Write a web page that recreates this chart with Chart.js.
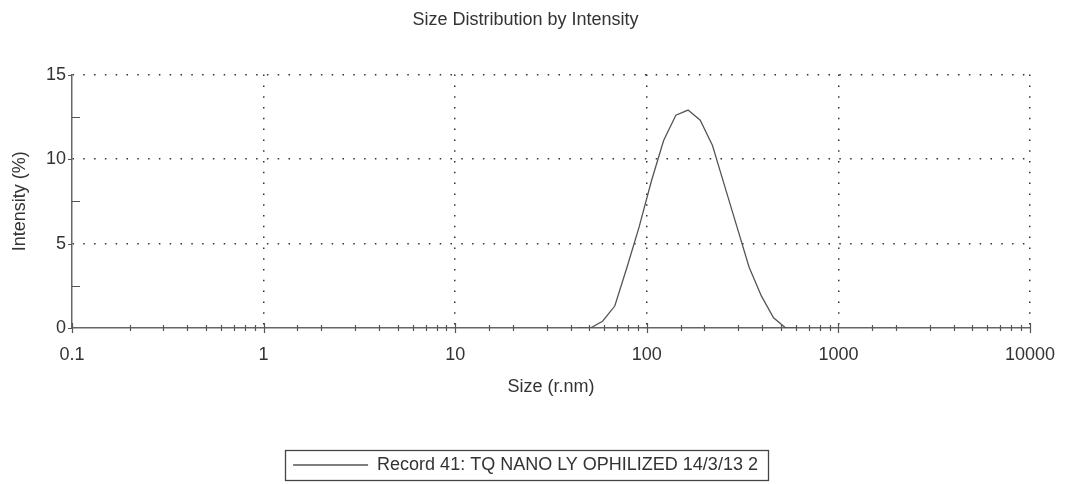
<!DOCTYPE html>
<html>
<head>
<meta charset="utf-8">
<script src="https://cdn.jsdelivr.net/npm/chart.js@4/dist/chart.umd.min.js"></script>
<style>
  html, body { margin: 0; padding: 0; background: #fff; }
</style>
</head>
<body>
<canvas id="myChart" width="1065" height="484"></canvas>
<script>
// size bins (r.nm) and intensity (%)
var sizes = [43.82, 50.75, 58.77, 68.06, 78.82, 91.28, 105.7, 122.4, 141.8, 164.2,
             190.1, 220.2, 255.0, 295.3, 342.0, 396.1, 458.7, 531.2, 615.1];
var intensity = [0, 0, 0.4, 1.3, 3.6, 6.0, 8.7, 11.1, 12.6, 12.9,
                 12.3, 10.8, 8.4, 6.0, 3.6, 1.9, 0.6, 0, 0];
var xTickLabels = [0.1, 1, 10, 100, 1000, 10000];
var yTickLabels = [0, 5, 10, 15];
var recordName = "Record 41: TQ NANO LY OPHILIZED 14/3/13 2";

var font = "'Liberation Sans', Arial, sans-serif";
var textColor = "#333";

function isDecade(v) {
  return xTickLabels.some(function (t) { return Math.abs(t - v) / t < 1e-6; });
}

// little tick marks crossing the axes, like the instrument software draws them
var axisMarks = {
  id: "axisMarks",
  afterDraw(chart) {
    let ctx = chart.ctx;
    let x = chart.scales.x, y = chart.scales.y;
    ctx.save();
    ctx.strokeStyle = "#555";
    ctx.lineWidth = 1.2;
    ctx.beginPath();
    x.ticks.forEach((t) => {
      let px = Math.round(x.getPixelForValue(t.value)) + 0.5;
      let h = isDecade(t.value) ? 5 : 3;
      ctx.moveTo(px, y.bottom - h);
      ctx.lineTo(px, y.bottom + h);
    });
    y.ticks.forEach((t) => {
      let py = Math.round(y.getPixelForValue(t.value)) + 0.5;
      if (yTickLabels.includes(t.value)) {
        ctx.moveTo(x.left - 4, py);
        ctx.lineTo(x.left, py);
      } else {
        ctx.moveTo(x.left, py);
        ctx.lineTo(x.left + 8, py);
      }
    });
    ctx.stroke();
    // frame around the legend entry
    let hb = chart.legend.legendHitBoxes[0];
    if (hb) {
      ctx.strokeStyle = "#444";
      ctx.lineWidth = 1.3;
      ctx.strokeRect(Math.round(hb.left - 8) + 0.5, Math.round(hb.top + hb.height / 2 - 15) + 0.5,
                     Math.round(hb.width + 18), 30);
    }
    ctx.restore();
  }
};

var ctx = document.getElementById("myChart").getContext("2d");
var myChart = new Chart(ctx, {
  type: "line",
  data: {
    labels: sizes,
    datasets: [
      {
        label: recordName,
        data: sizes.map((s, i) => ({ x: s, y: intensity[i] })),
        borderColor: "#555",
        backgroundColor: "#555",
        borderWidth: 1.3,
        pointRadius: 0,
        tension: 0,
        fill: false,
      },
    ],
  },
  options: {
    responsive: false,
    animation: false,
    devicePixelRatio: 1,
    layout: { padding: { left: 0, right: 14, top: 0, bottom: 0 } },
    plugins: {
      title: {
        display: true,
        text: "Size Distribution by Intensity",
        color: textColor,
        font: { family: font, size: 18, weight: "normal" },
        padding: { top: 9, bottom: 44 },
      },
      legend: {
        position: "bottom",
        labels: {
          usePointStyle: true,
          pointStyle: "line",
          pointStyleWidth: 75,
          color: textColor,
          padding: 10,
          font: { family: font, size: 18 },
        },
      },
      tooltip: { enabled: false },
    },
    scales: {
      x: {
        type: "logarithmic",
        min: 0.1,
        max: 10000,
        title: {
          display: true,
          text: "Size (r.nm)",
          color: textColor,
          font: { family: font, size: 18 },
          padding: { top: 11, bottom: 48 },
        },
        ticks: {
          autoSkip: false,
          maxRotation: 0,
          padding: 16,
          color: textColor,
          font: { family: font, size: 18 },
          callback: function (value) {
            return isDecade(value) ? String(xTickLabels.find((t) => Math.abs(t - value) / t < 1e-6)) : "";
          },
        },
        grid: {
          drawTicks: false,
          lineWidth: 1.5,
          color: function (c) {
            if (!c.tick) return "rgba(0,0,0,0)";
            return isDecade(c.tick.value) && c.tick.value > 0.11 ? "#333" : "rgba(0,0,0,0)";
          },
        },
        border: { display: true, color: "#666", width: 1.5, dash: [1.5, 9.3] },
        afterFit: function (scale) {
          scale.height = 118;
          scale.paddingRight = 35;
        },
      },
      y: {
        min: 0,
        max: 15,
        title: {
          display: true,
          text: "Intensity (%)",
          color: textColor,
          font: { family: font, size: 18 },
          padding: { top: 9, bottom: 4 },
        },
        ticks: {
          stepSize: 2.5,
          autoSkip: false,
          padding: 6,
          color: textColor,
          font: { family: font, size: 18 },
          callback: function (value) {
            return yTickLabels.includes(value) ? String(value) : "";
          },
        },
        grid: {
          drawTicks: false,
          lineWidth: 1.5,
          color: function (c) {
            if (!c.tick) return "rgba(0,0,0,0)";
            return yTickLabels.includes(c.tick.value) && c.tick.value > 0 ? "#333" : "rgba(0,0,0,0)";
          },
        },
        border: { display: true, color: "#666", width: 1.5, dash: [1.5, 9.3] },
        afterFit: function (scale) {
          scale.width = 72;
        },
      },
    },
  },
  plugins: [axisMarks],
});
</script>
</body>
</html>
